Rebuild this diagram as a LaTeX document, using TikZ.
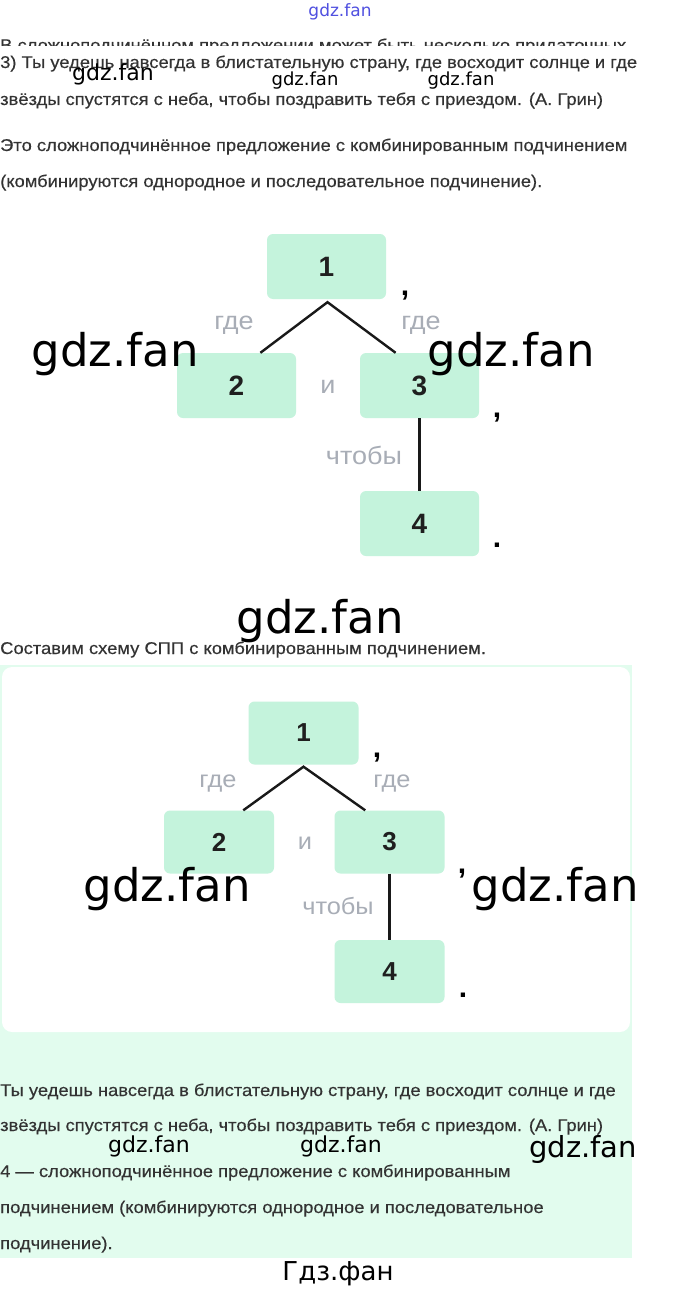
\documentclass[tikz,border=0pt]{standalone}
\usepackage{fontspec}
\usetikzlibrary{calc}
\setmainfont{Liberation Sans}
\newfontfamily\bodyfont[FakeStretch=1.08,FakeBold=0.35]{Liberation Sans}
\newfontfamily\lblfont[FakeStretch=1.08]{Liberation Sans}
\newfontfamily\wmfont{DejaVu Sans}
\definecolor{mint}{HTML}{C4F3DC}
\definecolor{panel}{HTML}{E2FCEE}
\definecolor{txt}{HTML}{333333}
\definecolor{labgray}{HTML}{A8ADB6}
\definecolor{wblue}{HTML}{5050E0}
\begin{document}
\begin{tikzpicture}[x=1pt,y=-1pt,
  body/.style={anchor=base west, inner sep=0, text=txt, font=\bodyfont\fontsize{17}{17}\selectfont},
  wmark/.style={inner sep=0, text=black, font=\wmfont\fontsize{#1}{#1}\selectfont},
  boxA/.style={fill=mint, rounded corners=6pt, minimum width=119pt, minimum height=65pt, inner sep=0, text=black!88, font=\bfseries\fontsize{28}{28}\selectfont},
  boxB/.style={boxA, minimum width=110pt, minimum height=63pt, font=\bfseries\fontsize{26}{26}\selectfont},
  lblA/.style={inner sep=0, text=labgray, font=\lblfont\fontsize{25}{25}\selectfont},
  lblB/.style={inner sep=0, text=labgray, font=\lblfont\fontsize{23.5}{23.5}\selectfont},
  punct/.style={inner sep=0, text=black, font=\bfseries\fontsize{30}{30}\selectfont},
  conn/.style={draw=black!90, line width=2.4pt}
]
\useasboundingbox (0,0) rectangle (680,1292);
\fill[white] (0,0) rectangle (680,1292);

% top watermark
\node[inner sep=0, text=wblue, font=\wmfont\fontsize{17}{17}\selectfont] (wtop) at (340,12) {gdz.fan};

% clipped first line
\begin{scope}
\clip (0,30) rectangle (680,46);
\node[body] (l0) at (0,51) {В сложноподчинённом предложении может быть несколько придаточных};
\end{scope}

\node[body] (l1) at (0,68) {3) Ты уедешь навсегда в блистательную страну, где восходит солнце и где};
\node[body] (l2) at (0,105) {звёзды спустятся с неба, чтобы поздравить тебя с приездом. (А. Грин)};
\node[body] (l3) at (0,151) {Это сложноподчинённое предложение с комбинированным подчинением};
\node[body] (l4) at (0,187) {(комбинируются однородное и последовательное подчинение).};

\node[wmark=22] (w1) at (113,74) {gdz.fan};
\node[wmark=18] (w2) at (305,81) {gdz.fan};
\node[wmark=18] (w3) at (461,81) {gdz.fan};

% diagram 1
\node[boxA] (a1) at (326.5,266.5) {1};
\node[boxA] (a2) at (236.5,385.5) {2};
\node[boxA] (a3) at (419.5,385.5) {3};
\node[boxA] (a4) at (419.5,523.5) {4};
\coordinate (a1apex) at ($(a1.south)+(1,3)$);
\draw[conn] ($(a2.north west)!0.7!(a2.north east)$) -- (a1apex) -- ($(a3.north west)!0.3!(a3.north east)$);
\draw[conn] (a3.south) -- (a4.north);
\node[punct] (ac1) at (405,296) {,};
\node[punct] (ac3) at (497,418) {,};
\node[punct] (ad4) at (497,545) {.};
\node[lblA] (ag1) at (234,325) {где};
\node[lblA] (ag2) at (421,325) {где};
\node[lblA] (ai) at (328,387) {и};
\node[lblA] (ach) at (364,455) {чтобы};

\node[wmark=45] (w4) at (115,354) {gdz.fan};
\node[wmark=45] (w5) at (511,354) {gdz.fan};
\node[wmark=45] (w6) at (320,621) {gdz.fan};

\node[body] (l5) at (0,654) {Составим схему СПП с комбинированным подчинением.};

% second panel
\fill[panel] (0,665) rectangle (632,1258);
\fill[white, rounded corners=10pt] (2,667) rectangle (630,1032);

\node[boxB] (b1) at (303.5,733) {1};
\node[boxB] (b2) at (219,842) {2};
\node[boxB] (b3) at (389.5,842) {3};
\node[boxB] (b4) at (389.5,971.5) {4};
\coordinate (b1apex) at ($(b1.south)+(0,2)$);
\draw[conn] ($(b2.north west)!0.72!(b2.north east)$) -- (b1apex) -- ($(b3.north west)!0.28!(b3.north east)$);
\draw[conn] (b3.south) -- (b4.north);
\node[punct] (bc1) at (377,758) {,};
\node[punct] (bc3) at (462,874) {,};
\node[punct] (bd4) at (463,995) {.};
\node[lblB] (bg1) at (218,784) {где};
\node[lblB] (bg2) at (392,784) {где};
\node[lblB] (bi) at (305,843) {и};
\node[lblB] (bch) at (338,906) {чтобы};

\node[wmark=45] (w7) at (167,889) {gdz.fan};
\node[wmark=45] (w8) at (555,889) {gdz.fan};

\node[body] (m1) at (0,1096) {Ты уедешь навсегда в блистательную страну, где восходит солнце и где};
\node[body] (m2) at (0,1131) {звёзды спустятся с неба, чтобы поздравить тебя с приездом. (А. Грин)};
\node[body] (m3) at (0,1177) {4 — сложноподчинённое предложение с комбинированным};
\node[body] (m4) at (0,1213) {подчинением (комбинируются однородное и последовательное};
\node[body] (m5) at (0,1249) {подчинение).};

\node[wmark=22] (w9) at (149,1146) {gdz.fan};
\node[wmark=22] (w10) at (341,1146) {gdz.fan};
\node[wmark=29] (w11) at (583,1149) {gdz.fan};

\node[wmark=26] (w12) at (338,1274) {Гдз.фан};
\end{tikzpicture}
\end{document}
